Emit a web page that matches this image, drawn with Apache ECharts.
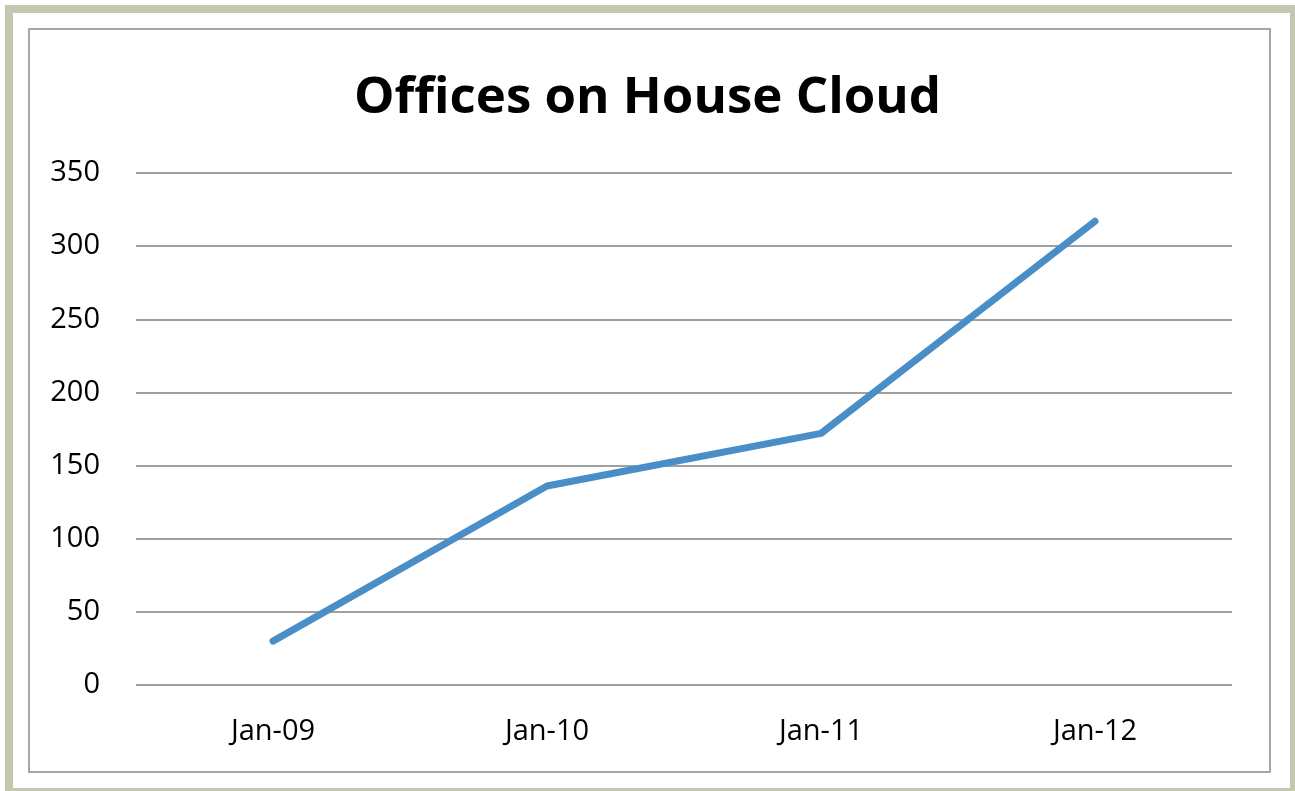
<!DOCTYPE html>
<html>
<head>
<meta charset="utf-8">
<script src="https://cdn.jsdelivr.net/npm/echarts@6/dist/echarts.min.js"></script>
<style>
html,body{margin:0;padding:0;background:#fff;}
#chart{width:1295px;height:791px;}
</style>
</head>
<body>
<div id="chart"></div>
<script>
const title = 'Offices on House Cloud';
const categories = ['Jan-09', 'Jan-10', 'Jan-11', 'Jan-12'];
const offices = [30, 136, 172, 317];
const yTicks = { min: 0, max: 350, interval: 50 };

const chart = echarts.init(document.getElementById('chart'));
chart.setOption({
  backgroundColor: '#ffffff',
  animation: false,
  title: {
    text: title,
    left: 'center',
    top: 68,
    textStyle: { fontFamily: 'Open Sans', fontWeight: 'bold', fontSize: 51, color: '#000' }
  },
  graphic: [
    { type: 'rect', shape: { x: 9, y: 9, width: 1285, height: 783 }, style: { fill: 'none', stroke: '#c5c8b0', lineWidth: 8 } },
    { type: 'rect', shape: { x: 29, y: 29, width: 1241, height: 743 }, style: { fill: 'none', stroke: '#a6a6a6', lineWidth: 2 } }
  ],
  grid: { left: 136, right: 63, top: 173, bottom: 106 },
  xAxis: {
    type: 'category',
    data: categories,
    boundaryGap: true,
    axisLine: { show: false },
    axisTick: { show: false },
    axisLabel: { fontFamily: 'Open Sans', fontSize: 29, color: '#000', margin: 32 }
  },
  yAxis: {
    type: 'value',
    min: yTicks.min, max: yTicks.max, interval: yTicks.interval,
    axisLine: { show: false },
    axisTick: { show: false },
    axisLabel: { fontFamily: 'Open Sans', fontSize: 29, color: '#000', margin: 36 },
    splitLine: { lineStyle: { color: '#a0a0a0', width: 2 } }
  },
  series: [{
    type: 'line',
    data: offices,
    symbol: 'none',
    lineStyle: { color: '#4a8ec8', width: 7, cap: 'round', join: 'round' }
  }]
});
</script>
</body>
</html>
